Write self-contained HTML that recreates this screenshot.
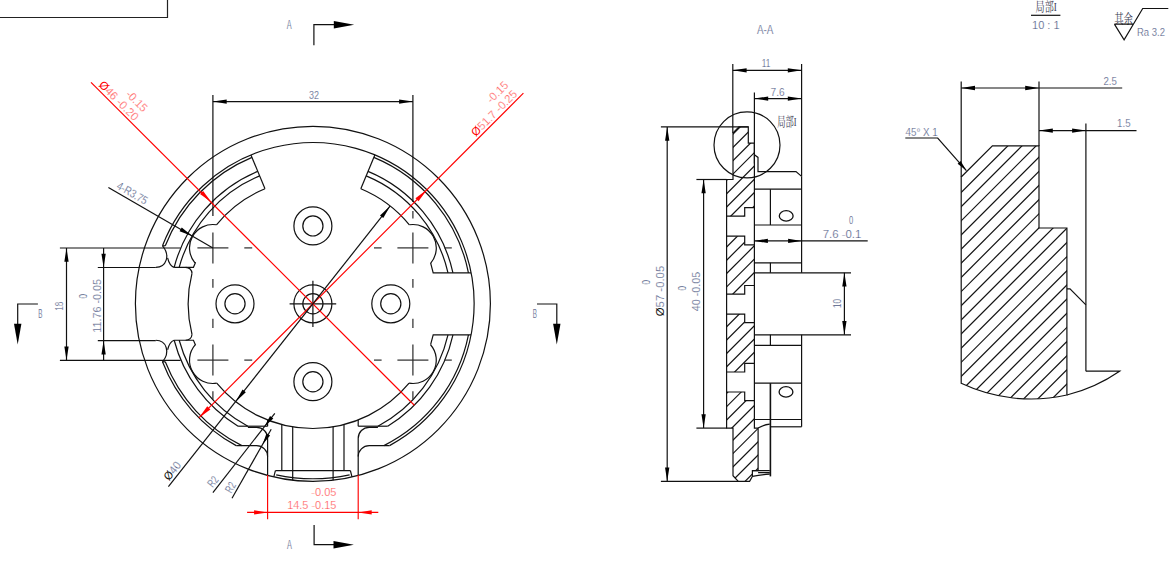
<!DOCTYPE html>
<html lang="zh"><head><meta charset="utf-8"><title>drawing</title>
<style>html,body{margin:0;padding:0;background:#fff;overflow:hidden}svg{display:block;shape-rendering:geometricPrecision}text{white-space:pre}</style></head>
<body>
<svg width="1175" height="566" viewBox="0 0 1175 566">
<circle cx="312.9" cy="303.8" r="177.5" fill="none" stroke="#111" stroke-width="1.2"/>
<path d="M389.57 445.6 A161.2 161.2 0 1 0 162.5 245.8" fill="none" stroke="#111" stroke-width="1.2"/>
<path d="M162.5 361.8 A161.2 161.2 0 0 0 236.23 445.6" fill="none" stroke="#111" stroke-width="1.2"/>
<path d="M468.44 272.8 A158.6 158.6 0 0 0 373.85 157.38" fill="none" stroke="#111" stroke-width="1.2"/>
<path d="M251.95 157.38 A158.6 158.6 0 0 0 165.29 245.8" fill="none" stroke="#111" stroke-width="1.2"/>
<path d="M165.29 361.8 A158.6 158.6 0 0 0 241.86 445.6" fill="none" stroke="#111" stroke-width="1.2"/>
<path d="M383.94 445.6 A158.6 158.6 0 0 0 468.44 334.8" fill="none" stroke="#111" stroke-width="1.2"/>
<path d="M452.96 272.8 A143.45 143.45 0 0 0 368.03 171.37" fill="none" stroke="#111" stroke-width="1.2"/>
<path d="M257.77 171.37 A143.45 143.45 0 0 0 174.16 267.35" fill="none" stroke="#111" stroke-width="1.2"/>
<path d="M174.16 340.25 A143.45 143.45 0 0 0 238.09 426.2" fill="none" stroke="#111" stroke-width="1.2"/>
<path d="M387.71 426.2 A143.45 143.45 0 0 0 452.96 334.8" fill="none" stroke="#111" stroke-width="1.2"/>
<path d="M447.99 272.8 A138.6 138.6 0 0 0 366.16 175.84" fill="none" stroke="#111" stroke-width="1.2"/>
<path d="M259.64 175.84 A138.6 138.6 0 0 0 179.18 267.35" fill="none" stroke="#111" stroke-width="1.2"/>
<path d="M179.18 340.25 A138.6 138.6 0 0 0 247.88 426.2" fill="none" stroke="#111" stroke-width="1.2"/>
<path d="M377.92 426.2 A138.6 138.6 0 0 0 447.99 334.8" fill="none" stroke="#111" stroke-width="1.2"/>
<line x1="360.82" y1="188.68" x2="374.85" y2="154.98" stroke="#111" stroke-width="1.2"/>
<line x1="264.98" y1="188.68" x2="250.95" y2="154.98" stroke="#111" stroke-width="1.2"/>
<path d="M264.98 188.68 A124.7 124.7 0 0 0 216.44 224.77" fill="none" stroke="#111" stroke-width="1.2"/>
<path d="M216.44 224.77 A23.4 23.4 0 0 0 194.92 262.87" fill="none" stroke="#111" stroke-width="1.2"/>
<path d="M195.6 262.3 L193.45 267.35 L174.16 267.35" fill="none" stroke="#111" stroke-width="1.2"/>
<path d="M185.65 267.35 Q191.45 267.65 192.05 273.35" fill="none" stroke="#111" stroke-width="1.2"/>
<path d="M195.12 344.89 A23.4 23.4 0 0 0 216.73 383.18" fill="none" stroke="#111" stroke-width="1.2"/>
<path d="M195.6 345.3 L193.45 340.25 L174.16 340.25" fill="none" stroke="#111" stroke-width="1.2"/>
<path d="M185.65 340.25 Q191.45 339.95 192.05 334.25" fill="none" stroke="#111" stroke-width="1.2"/>
<path d="M191.97 273.35 A124.7 124.7 0 0 0 191.97 334.25" fill="none" stroke="#111" stroke-width="1.2"/>
<path d="M409.36 224.77 A124.7 124.7 0 0 0 360.82 188.68" fill="none" stroke="#111" stroke-width="1.2"/>
<path d="M409.36 224.77 A23.4 23.4 0 0 1 430.75 263.03" fill="none" stroke="#111" stroke-width="1.2"/>
<path d="M430.6 262.9 L433.2 272.8 L471.09 272.8" fill="none" stroke="#111" stroke-width="1.2"/>
<path d="M430.55 344.74 A23.4 23.4 0 0 1 409.07 383.18" fill="none" stroke="#111" stroke-width="1.2"/>
<path d="M430.6 344.7 L433.2 334.8 L471.09 334.8" fill="none" stroke="#111" stroke-width="1.2"/>
<path d="M216.73 383.18 A124.7 124.7 0 0 0 409.07 383.18" fill="none" stroke="#111" stroke-width="1.2"/>
<line x1="267.6" y1="419.98" x2="267.6" y2="426.2" stroke="#111" stroke-width="1.2"/>
<line x1="267.6" y1="426.2" x2="238.09" y2="426.2" stroke="#111" stroke-width="1.2"/>
<path d="M247.88 427.3 L256.6 427.3 A11 11 0 0 1 267.6 438.3 L267.6 475.42" fill="none" stroke="#111" stroke-width="1.2"/>
<path d="M236.23 445.6 L256.6 445.6 A11 11 0 0 1 267.6 456.6" fill="none" stroke="#111" stroke-width="1.2"/>
<line x1="358.2" y1="419.98" x2="358.2" y2="426.2" stroke="#111" stroke-width="1.2"/>
<line x1="358.2" y1="426.2" x2="387.71" y2="426.2" stroke="#111" stroke-width="1.2"/>
<path d="M377.92 427.3 L369.2 427.3 A11 11 0 0 0 358.2 438.3 L358.2 475.42" fill="none" stroke="#111" stroke-width="1.2"/>
<path d="M389.57 445.6 L369.2 445.6 A11 11 0 0 0 358.2 456.6" fill="none" stroke="#111" stroke-width="1.2"/>
<line x1="281.8" y1="424.56" x2="281.8" y2="470.7" stroke="#111" stroke-width="1.2"/>
<line x1="292.7" y1="426.85" x2="292.7" y2="480.15" stroke="#111" stroke-width="1.2"/>
<line x1="333.1" y1="426.85" x2="333.1" y2="480.15" stroke="#111" stroke-width="1.2"/>
<line x1="344" y1="424.56" x2="344" y2="470.7" stroke="#111" stroke-width="1.2"/>
<line x1="275.4" y1="470.7" x2="350.4" y2="470.7" stroke="#111" stroke-width="1.2"/>
<path d="M276.2 474.81 A174.9 174.9 0 0 0 349.6 474.81" fill="none" stroke="#111" stroke-width="1.2"/>
<line x1="275.4" y1="470.7" x2="273.8" y2="476.94" stroke="#111" stroke-width="1.2"/>
<line x1="350.4" y1="470.7" x2="352" y2="476.94" stroke="#111" stroke-width="1.2"/>
<line x1="162.5" y1="245.8" x2="165.29" y2="245.8" stroke="#111" stroke-width="1.2"/>
<path d="M155.8 267.35 C166.5 267.35 170.5 255.35 162.5 245.8" fill="none" stroke="#111" stroke-width="1.2"/>
<path d="M167.6 257.85 Q169.5 265.85 174.16 267.35" fill="none" stroke="#111" stroke-width="1.2"/>
<line x1="162.5" y1="361.8" x2="165.29" y2="361.8" stroke="#111" stroke-width="1.2"/>
<path d="M155.8 340.25 C166.5 340.25 170.5 352.25 162.5 361.8" fill="none" stroke="#111" stroke-width="1.2"/>
<path d="M167.6 349.75 Q169.5 341.75 174.16 340.25" fill="none" stroke="#111" stroke-width="1.2"/>
<circle cx="312.9" cy="303.8" r="19" fill="none" stroke="#111" stroke-width="1.2"/>
<circle cx="312.9" cy="303.8" r="10.1" fill="none" stroke="#111" stroke-width="1.2"/>
<circle cx="235" cy="303.8" r="19" fill="none" stroke="#111" stroke-width="1.2"/>
<circle cx="235" cy="303.8" r="10.1" fill="none" stroke="#111" stroke-width="1.2"/>
<circle cx="390.8" cy="303.8" r="19" fill="none" stroke="#111" stroke-width="1.2"/>
<circle cx="390.8" cy="303.8" r="10.1" fill="none" stroke="#111" stroke-width="1.2"/>
<circle cx="312.9" cy="225.9" r="19" fill="none" stroke="#111" stroke-width="1.2"/>
<circle cx="312.9" cy="225.9" r="10.1" fill="none" stroke="#111" stroke-width="1.2"/>
<circle cx="312.9" cy="381.7" r="19" fill="none" stroke="#111" stroke-width="1.2"/>
<circle cx="312.9" cy="381.7" r="10.1" fill="none" stroke="#111" stroke-width="1.2"/>
<line x1="289.6" y1="303.8" x2="336.2" y2="303.8" stroke="#111" stroke-width="1.2"/>
<line x1="312.9" y1="280.7" x2="312.9" y2="326.9" stroke="#111" stroke-width="1.2"/>
<line x1="197.4" y1="247.9" x2="228.4" y2="247.9" stroke="#2a2a2a" stroke-width="1.2"/>
<line x1="244.3" y1="247.9" x2="252.2" y2="247.9" stroke="#2a2a2a" stroke-width="1.2"/>
<line x1="374" y1="247.9" x2="381.6" y2="247.9" stroke="#2a2a2a" stroke-width="1.2"/>
<line x1="397.4" y1="247.9" x2="428.4" y2="247.9" stroke="#2a2a2a" stroke-width="1.2"/>
<line x1="444.4" y1="247.9" x2="451.8" y2="247.9" stroke="#2a2a2a" stroke-width="1.2"/>
<line x1="197.4" y1="360.1" x2="228.4" y2="360.1" stroke="#2a2a2a" stroke-width="1.2"/>
<line x1="244.3" y1="360.1" x2="252.2" y2="360.1" stroke="#2a2a2a" stroke-width="1.2"/>
<line x1="374" y1="360.1" x2="381.6" y2="360.1" stroke="#2a2a2a" stroke-width="1.2"/>
<line x1="397.4" y1="360.1" x2="428.4" y2="360.1" stroke="#2a2a2a" stroke-width="1.2"/>
<line x1="444.4" y1="360.1" x2="451.8" y2="360.1" stroke="#2a2a2a" stroke-width="1.2"/>
<line x1="212.9" y1="232.4" x2="212.9" y2="263.5" stroke="#2a2a2a" stroke-width="1.2"/>
<line x1="212.9" y1="279" x2="212.9" y2="287.8" stroke="#2a2a2a" stroke-width="1.2"/>
<line x1="212.9" y1="318.8" x2="212.9" y2="328" stroke="#2a2a2a" stroke-width="1.2"/>
<line x1="212.9" y1="344.4" x2="212.9" y2="375.4" stroke="#2a2a2a" stroke-width="1.2"/>
<line x1="212.9" y1="391.2" x2="212.9" y2="399.4" stroke="#2a2a2a" stroke-width="1.2"/>
<line x1="412.9" y1="232.4" x2="412.9" y2="263.5" stroke="#2a2a2a" stroke-width="1.2"/>
<line x1="412.9" y1="279" x2="412.9" y2="287.8" stroke="#2a2a2a" stroke-width="1.2"/>
<line x1="412.9" y1="318.8" x2="412.9" y2="328" stroke="#2a2a2a" stroke-width="1.2"/>
<line x1="412.9" y1="344.4" x2="412.9" y2="375.4" stroke="#2a2a2a" stroke-width="1.2"/>
<line x1="412.9" y1="391.2" x2="412.9" y2="399.4" stroke="#2a2a2a" stroke-width="1.2"/>
<line x1="412.9" y1="211" x2="412.9" y2="218.6" stroke="#2a2a2a" stroke-width="1.2"/>
<line x1="212.9" y1="95" x2="212.9" y2="216" stroke="#111" stroke-width="1.2"/>
<line x1="412.9" y1="95" x2="412.9" y2="202" stroke="#111" stroke-width="1.2"/>
<line x1="212.9" y1="101.6" x2="412.9" y2="101.6" stroke="#111" stroke-width="1.2"/>
<polygon points="212.9,101.6 226.7,99.45 226.7,103.75" fill="#000"/>
<polygon points="412.9,101.6 399.1,103.75 399.1,99.45" fill="#000"/>
<text font-family="'Liberation Sans', sans-serif" font-size="11.45" fill="#4e5a84" text-anchor="middle" textLength="10" lengthAdjust="spacingAndGlyphs" stroke="#fff" stroke-width="0.22" x="314" y="98.6">32</text>
<path d="M313.9 45.2 V24.7 H334" fill="none" stroke="#111" stroke-width="1.2"/>
<polygon points="354.2,24.7 333.8,28.4 333.8,21" fill="#000"/>
<text font-family="'Liberation Sans', sans-serif" font-size="12.43" fill="#4e5a84" textLength="4.9" lengthAdjust="spacingAndGlyphs" stroke="#fff" stroke-width="0.22" x="286.7" y="29.3">A</text>
<path d="M314.1 525.1 V544.7 H334.4" fill="none" stroke="#111" stroke-width="1.2"/>
<polygon points="353.9,544.7 333.5,548.4 333.5,541" fill="#000"/>
<text font-family="'Liberation Sans', sans-serif" font-size="12.43" fill="#4e5a84" textLength="4.9" lengthAdjust="spacingAndGlyphs" stroke="#fff" stroke-width="0.22" x="287" y="549.4">A</text>
<path d="M37.9 304 H17.7 V324" fill="none" stroke="#111" stroke-width="1.2"/>
<polygon points="17.7,344.4 14,323.8 21.4,323.8" fill="#000"/>
<text font-family="'Liberation Sans', sans-serif" font-size="12.43" fill="#4e5a84" textLength="4.2" lengthAdjust="spacingAndGlyphs" stroke="#fff" stroke-width="0.22" x="38.2" y="317.9">B</text>
<path d="M537 304 H556.8 V324" fill="none" stroke="#111" stroke-width="1.2"/>
<polygon points="556.8,344.4 553.1,323.8 560.5,323.8" fill="#000"/>
<text font-family="'Liberation Sans', sans-serif" font-size="12.43" fill="#4e5a84" textLength="4.2" lengthAdjust="spacingAndGlyphs" stroke="#fff" stroke-width="0.22" x="532.8" y="317.9">B</text>
<line x1="59.9" y1="248" x2="180.6" y2="248" stroke="#111" stroke-width="1.2"/>
<line x1="59.9" y1="360.3" x2="180.6" y2="360.3" stroke="#111" stroke-width="1.2"/>
<line x1="97.8" y1="267.5" x2="155.8" y2="267.5" stroke="#111" stroke-width="1.2"/>
<line x1="97.8" y1="340.7" x2="155.8" y2="340.7" stroke="#111" stroke-width="1.2"/>
<line x1="66.5" y1="248" x2="66.5" y2="360.3" stroke="#111" stroke-width="1.2"/>
<polygon points="66.5,248 68.65,261.8 64.35,261.8" fill="#000"/>
<polygon points="66.5,360.3 64.35,346.5 68.65,346.5" fill="#000"/>
<line x1="103.6" y1="248" x2="103.6" y2="360.3" stroke="#111" stroke-width="1.2"/>
<polygon points="103.6,267.5 101.45,253.7 105.75,253.7" fill="#000"/>
<polygon points="103.6,340.7 105.75,354.5 101.45,354.5" fill="#000"/>
<text font-family="'Liberation Sans', sans-serif" font-size="11.45" fill="#4e5a84" textLength="9.2" lengthAdjust="spacingAndGlyphs" stroke="#fff" stroke-width="0.22" transform="translate(62.8 310.8) rotate(-90)">18</text>
<text font-family="'Liberation Sans', sans-serif" font-size="11.45" fill="#4e5a84" textLength="53.8" lengthAdjust="spacingAndGlyphs" stroke="#fff" stroke-width="0.22" transform="translate(100.6 332.8) rotate(-90)">11.76 -0.05</text>
<text font-family="'Liberation Sans', sans-serif" font-size="10.61" fill="#4e5a84" textLength="4.6" lengthAdjust="spacingAndGlyphs" stroke="#fff" stroke-width="0.22" transform="translate(86.6 298.5) rotate(-90)">0</text>
<line x1="108.4" y1="187.6" x2="212.9" y2="247.9" stroke="#111" stroke-width="1.2"/>
<polygon points="192.63,236.2 179.63,231.13 181.73,227.49" fill="#000"/>
<text font-family="'Liberation Sans', sans-serif" font-size="11.45" fill="#4e5a84" textLength="33.5" lengthAdjust="spacingAndGlyphs" stroke="#fff" stroke-width="0.22" transform="translate(115.8 188.18) rotate(29.99)">4-R3.75</text>
<line x1="91" y1="82.3" x2="414.33" y2="405.23" stroke="#ff0000" stroke-width="1.15"/>
<polygon points="211.47,202.37 200.01,194.02 203.12,190.91" fill="#ff0000"/>
<line x1="523.4" y1="93.2" x2="198.91" y2="417.79" stroke="#ff0000" stroke-width="1.15"/>
<polygon points="198.91,417.79 207.26,406.33 210.37,409.44" fill="#ff0000"/>
<polygon points="426.89,189.81 418.54,201.27 415.43,198.16" fill="#ff0000"/>
<text font-family="'Liberation Sans', sans-serif" font-size="11.45" fill="#ff5555" textLength="50.6" lengthAdjust="spacingAndGlyphs" stroke="#fff" stroke-width="0.22" transform="translate(98.14 85.62) rotate(45)"><tspan fill="#ff0000" stroke="none">Ø</tspan>46 -0.20</text>
<text font-family="'Liberation Sans', sans-serif" font-size="11.45" fill="#ff5555" textLength="25" lengthAdjust="spacingAndGlyphs" stroke="#fff" stroke-width="0.22" transform="translate(125.08 94.89) rotate(45)">-0.15</text>
<text font-family="'Liberation Sans', sans-serif" font-size="11.45" fill="#ff5555" textLength="59.6" lengthAdjust="spacingAndGlyphs" stroke="#fff" stroke-width="0.22" transform="translate(475.81 136.97) rotate(-45)"><tspan fill="#ff0000" stroke="none">Ø</tspan>51.7 -0.25</text>
<text font-family="'Liberation Sans', sans-serif" font-size="11.45" fill="#ff5555" textLength="25.3" lengthAdjust="spacingAndGlyphs" stroke="#fff" stroke-width="0.22" transform="translate(491.23 103.88) rotate(-45)">-0.15</text>
<line x1="267.6" y1="475" x2="267.6" y2="519.2" stroke="#ff0000" stroke-width="1.15"/>
<line x1="358.2" y1="475" x2="358.2" y2="519.2" stroke="#ff0000" stroke-width="1.15"/>
<line x1="247.1" y1="512.4" x2="378.3" y2="512.4" stroke="#ff0000" stroke-width="1.15"/>
<polygon points="267.6,512.4 254.1,514.55 254.1,510.25" fill="#ff0000"/>
<polygon points="358.2,512.4 371.7,510.25 371.7,514.55" fill="#ff0000"/>
<text font-family="'Liberation Sans', sans-serif" font-size="11.45" fill="#ff5555" textLength="49.2" lengthAdjust="spacingAndGlyphs" stroke="#fff" stroke-width="0.22" x="287.2" y="509.4">14.5 -0.15</text>
<text font-family="'Liberation Sans', sans-serif" font-size="11.45" fill="#ff5555" textLength="25.1" lengthAdjust="spacingAndGlyphs" stroke="#fff" stroke-width="0.22" x="311.3" y="495.6">-0.05</text>
<line x1="390.19" y1="205.94" x2="168.4" y2="486.6" stroke="#111" stroke-width="1.2"/>
<polygon points="390.19,205.94 383.28,218.07 379.99,215.47" fill="#000"/>
<polygon points="235.61,401.66 242.52,389.53 245.81,392.13" fill="#000"/>
<text font-family="'Liberation Sans', sans-serif" font-size="11.45" fill="#4e5a84" textLength="20.4" lengthAdjust="spacingAndGlyphs" stroke="#fff" stroke-width="0.22" transform="translate(168.99 481.33) rotate(-51.7)"><tspan fill="#111" stroke="none">Ø</tspan>40</text>
<line x1="212.9" y1="492.6" x2="274.8" y2="413.3" stroke="#111" stroke-width="1.2"/>
<polygon points="264.58,426.39 270,416.03 273.32,418.61" fill="#000"/>
<text font-family="'Liberation Sans', sans-serif" font-size="11.45" fill="#4e5a84" textLength="10.2" lengthAdjust="spacingAndGlyphs" stroke="#fff" stroke-width="0.22" transform="translate(212.85 488.12) rotate(-52.03)">R2</text>
<line x1="232" y1="498.3" x2="271.2" y2="429.3" stroke="#111" stroke-width="1.2"/>
<polygon points="262.57,444.48 266.43,433.45 270.08,435.52" fill="#000"/>
<text font-family="'Liberation Sans', sans-serif" font-size="11.45" fill="#4e5a84" textLength="10.2" lengthAdjust="spacingAndGlyphs" stroke="#fff" stroke-width="0.22" transform="translate(231.29 493.87) rotate(-60.4)">R2</text>
<text font-family="'Liberation Sans', sans-serif" font-size="12.01" fill="#4e5a84" text-anchor="middle" textLength="16.5" lengthAdjust="spacingAndGlyphs" stroke="#fff" stroke-width="0.22" x="765.2" y="34.4">A-A</text>
<clipPath id="cs"><path clip-rule="evenodd" d="M733 132.9 L739 126.9 L748.3 126.9 L748.3 143.1 L754.4 143.1 L754.4 428.1 L758.1 428.1 L758.1 470.7 L752.4 470.7 L752.4 476.4 L749.6 481.3 L738.3 481.3 L733 475.7 L733 428.1 L726.6 428.1 L726.6 179.5 L733 179.5 Z M726.6 216.2 H744.7 V207.6 H754.4 V244.8 H744.7 V236.2 H726.6 ZM726.6 294.1 H744.7 V285.5 H754.4 V322.7 H744.7 V314.1 H726.6 ZM726.6 372 H744.7 V363.4 H754.4 V400.6 H744.7 V392 H726.6 Z"/></clipPath>
<g clip-path="url(#cs)" stroke="#111" stroke-width="1.2"><line x1="700" y1="-59.2" x2="780" y2="-139.2"/><line x1="700" y1="-45.89" x2="780" y2="-125.89"/><line x1="700" y1="-32.58" x2="780" y2="-112.58"/><line x1="700" y1="-19.27" x2="780" y2="-99.27"/><line x1="700" y1="-5.96" x2="780" y2="-85.96"/><line x1="700" y1="7.35" x2="780" y2="-72.65"/><line x1="700" y1="20.66" x2="780" y2="-59.34"/><line x1="700" y1="33.97" x2="780" y2="-46.03"/><line x1="700" y1="47.28" x2="780" y2="-32.72"/><line x1="700" y1="60.59" x2="780" y2="-19.41"/><line x1="700" y1="73.9" x2="780" y2="-6.1"/><line x1="700" y1="87.21" x2="780" y2="7.21"/><line x1="700" y1="100.52" x2="780" y2="20.52"/><line x1="700" y1="113.83" x2="780" y2="33.83"/><line x1="700" y1="127.14" x2="780" y2="47.14"/><line x1="700" y1="140.45" x2="780" y2="60.45"/><line x1="700" y1="153.76" x2="780" y2="73.76"/><line x1="700" y1="167.07" x2="780" y2="87.07"/><line x1="700" y1="180.38" x2="780" y2="100.38"/><line x1="700" y1="193.69" x2="780" y2="113.69"/><line x1="700" y1="207" x2="780" y2="127"/><line x1="700" y1="220.31" x2="780" y2="140.31"/><line x1="700" y1="233.62" x2="780" y2="153.62"/><line x1="700" y1="246.93" x2="780" y2="166.93"/><line x1="700" y1="260.24" x2="780" y2="180.24"/><line x1="700" y1="273.55" x2="780" y2="193.55"/><line x1="700" y1="286.86" x2="780" y2="206.86"/><line x1="700" y1="300.17" x2="780" y2="220.17"/><line x1="700" y1="313.48" x2="780" y2="233.48"/><line x1="700" y1="326.79" x2="780" y2="246.79"/><line x1="700" y1="340.1" x2="780" y2="260.1"/><line x1="700" y1="353.41" x2="780" y2="273.41"/><line x1="700" y1="366.72" x2="780" y2="286.72"/><line x1="700" y1="380.03" x2="780" y2="300.03"/><line x1="700" y1="393.34" x2="780" y2="313.34"/><line x1="700" y1="406.65" x2="780" y2="326.65"/><line x1="700" y1="419.96" x2="780" y2="339.96"/><line x1="700" y1="433.27" x2="780" y2="353.27"/><line x1="700" y1="446.58" x2="780" y2="366.58"/><line x1="700" y1="459.89" x2="780" y2="379.89"/><line x1="700" y1="473.2" x2="780" y2="393.2"/><line x1="700" y1="486.51" x2="780" y2="406.51"/><line x1="700" y1="499.82" x2="780" y2="419.82"/><line x1="700" y1="513.13" x2="780" y2="433.13"/><line x1="700" y1="526.44" x2="780" y2="446.44"/><line x1="700" y1="539.75" x2="780" y2="459.75"/><line x1="700" y1="553.06" x2="780" y2="473.06"/><line x1="700" y1="566.37" x2="780" y2="486.37"/><line x1="700" y1="579.68" x2="780" y2="499.68"/><line x1="700" y1="592.99" x2="780" y2="512.99"/><line x1="700" y1="606.3" x2="780" y2="526.3"/><line x1="700" y1="619.61" x2="780" y2="539.61"/><line x1="700" y1="632.92" x2="780" y2="552.92"/><line x1="700" y1="646.23" x2="780" y2="566.23"/><line x1="700" y1="659.54" x2="780" y2="579.54"/><line x1="700" y1="672.85" x2="780" y2="592.85"/><line x1="700" y1="686.16" x2="780" y2="606.16"/><line x1="700" y1="699.47" x2="780" y2="619.47"/></g>
<path d="M733 132.9 L739 126.9 L748.3 126.9 L748.3 143.1 L754.4 143.1 L754.4 428.1 L758.1 428.1 L758.1 470.7 L752.4 470.7 L752.4 476.4 L749.6 481.3 L738.3 481.3 L733 475.7 L733 428.1 L726.6 428.1 L726.6 179.5 L733 179.5 Z" fill="none" stroke="#111" stroke-width="1.2"/>
<path d="M726.6 216.2 H744.7 V207.6 H754.4 M726.6 236.2 H744.7 V244.8 H754.4" fill="none" stroke="#111" stroke-width="1.2"/>
<path d="M726.6 294.1 H744.7 V285.5 H754.4 M726.6 314.1 H744.7 V322.7 H754.4" fill="none" stroke="#111" stroke-width="1.2"/>
<path d="M726.6 372 H744.7 V363.4 H754.4 M726.6 392 H744.7 V400.6 H754.4" fill="none" stroke="#111" stroke-width="1.2"/>
<line x1="754.4" y1="143.1" x2="754.4" y2="163.6" stroke="#111" stroke-width="1.2"/>
<path d="M754.4 154.8 L758.0 157.4 V171.6 H796 L801.6 176.4" fill="none" stroke="#111" stroke-width="1.2"/>
<line x1="754.4" y1="189.2" x2="801.6" y2="189.2" stroke="#111" stroke-width="1.2"/>
<line x1="770.4" y1="189.2" x2="770.4" y2="225" stroke="#111" stroke-width="1.2"/>
<line x1="754.4" y1="225" x2="801.6" y2="225" stroke="#111" stroke-width="1.2"/>
<ellipse cx="786.2" cy="215.9" rx="6.9" ry="5.2" fill="none" stroke="#111" stroke-width="1.3"/>
<line x1="754.4" y1="262.8" x2="801.6" y2="262.8" stroke="#111" stroke-width="1.2"/>
<line x1="770.4" y1="262.8" x2="770.4" y2="272.8" stroke="#111" stroke-width="1.2"/>
<line x1="801.6" y1="176.4" x2="801.6" y2="272.8" stroke="#111" stroke-width="1.2"/>
<line x1="754.4" y1="272.8" x2="851" y2="272.8" stroke="#111" stroke-width="1.2"/>
<line x1="754.4" y1="334.8" x2="851" y2="334.8" stroke="#111" stroke-width="1.2"/>
<line x1="770.4" y1="334.8" x2="770.4" y2="345.4" stroke="#111" stroke-width="1.2"/>
<line x1="754.4" y1="345.4" x2="801.6" y2="345.4" stroke="#111" stroke-width="1.2"/>
<line x1="801.6" y1="334.8" x2="801.6" y2="426.8" stroke="#111" stroke-width="1.2"/>
<line x1="754.4" y1="383.2" x2="801.6" y2="383.2" stroke="#111" stroke-width="1.2"/>
<line x1="770.4" y1="383.2" x2="770.4" y2="476.4" stroke="#111" stroke-width="1.6"/>
<line x1="754.4" y1="419.5" x2="801.6" y2="419.5" stroke="#111" stroke-width="1.2"/>
<line x1="770.4" y1="426.8" x2="801.6" y2="426.8" stroke="#111" stroke-width="1.2"/>
<ellipse cx="786" cy="391.9" rx="6.9" ry="5.2" fill="none" stroke="#111" stroke-width="1.3"/>
<path d="M758.1 428.1 Q764 424.6 769.8 424.2" fill="none" stroke="#111" stroke-width="1.2"/>
<path d="M752.4 470.7 H769.8 M758.1 472.6 H769.8 M752.4 476.4 Q762 474.4 769.8 474.2" fill="none" stroke="#111" stroke-width="1.2"/>
<circle cx="747" cy="144.9" r="33" fill="none" stroke="#111" stroke-width="1.2"/>
<text font-family="'Liberation Serif', 'Noto Serif CJK SC', serif" font-size="12.57" fill="#38384f" textLength="19.4" lengthAdjust="spacingAndGlyphs" x="777.2" y="125.6">局部I</text>
<line x1="732.8" y1="63.9" x2="732.8" y2="132.9" stroke="#111" stroke-width="1.2"/>
<line x1="801.6" y1="63.9" x2="801.6" y2="176.4" stroke="#111" stroke-width="1.2"/>
<line x1="732.8" y1="70.3" x2="801.6" y2="70.3" stroke="#111" stroke-width="1.2"/>
<polygon points="732.8,70.3 746.6,68.15 746.6,72.45" fill="#000"/>
<polygon points="801.6,70.3 787.8,72.45 787.8,68.15" fill="#000"/>
<text font-family="'Liberation Sans', sans-serif" font-size="11.45" fill="#4e5a84" text-anchor="middle" textLength="8.6" lengthAdjust="spacingAndGlyphs" stroke="#fff" stroke-width="0.22" x="766" y="66.6">11</text>
<line x1="754.4" y1="92.5" x2="754.4" y2="143.1" stroke="#111" stroke-width="1.2"/>
<line x1="754.4" y1="98.6" x2="801.6" y2="98.6" stroke="#111" stroke-width="1.2"/>
<polygon points="754.4,98.6 768.2,96.45 768.2,100.75" fill="#000"/>
<polygon points="801.6,98.6 787.8,100.75 787.8,96.45" fill="#000"/>
<text font-family="'Liberation Sans', sans-serif" font-size="11.45" fill="#4e5a84" text-anchor="middle" textLength="14" lengthAdjust="spacingAndGlyphs" stroke="#fff" stroke-width="0.22" x="777.6" y="96.2">7.6</text>
<line x1="660.9" y1="126.9" x2="748.3" y2="126.9" stroke="#111" stroke-width="1.2"/>
<line x1="660.9" y1="481.3" x2="738.3" y2="481.3" stroke="#111" stroke-width="1.2"/>
<line x1="667.2" y1="126.9" x2="667.2" y2="481.3" stroke="#111" stroke-width="1.2"/>
<polygon points="667.2,126.9 669.35,140.7 665.05,140.7" fill="#000"/>
<polygon points="667.2,481.3 665.05,467.5 669.35,467.5" fill="#000"/>
<line x1="696.4" y1="179.5" x2="726.6" y2="179.5" stroke="#111" stroke-width="1.2"/>
<line x1="696.4" y1="428.1" x2="726.6" y2="428.1" stroke="#111" stroke-width="1.2"/>
<line x1="703.6" y1="179.5" x2="703.6" y2="428.1" stroke="#111" stroke-width="1.2"/>
<polygon points="703.6,179.5 705.75,193.3 701.45,193.3" fill="#000"/>
<polygon points="703.6,428.1 701.45,414.3 705.75,414.3" fill="#000"/>
<text font-family="'Liberation Sans', sans-serif" font-size="11.45" fill="#4e5a84" textLength="50.4" lengthAdjust="spacingAndGlyphs" stroke="#fff" stroke-width="0.22" transform="translate(664.4 316.2) rotate(-90)"><tspan fill="#111" stroke="none">Ø</tspan>57 -0.05</text>
<text font-family="'Liberation Sans', sans-serif" font-size="10.61" fill="#4e5a84" textLength="4.6" lengthAdjust="spacingAndGlyphs" stroke="#fff" stroke-width="0.22" transform="translate(650.2 284.4) rotate(-90)">0</text>
<text font-family="'Liberation Sans', sans-serif" font-size="11.45" fill="#4e5a84" textLength="39.4" lengthAdjust="spacingAndGlyphs" stroke="#fff" stroke-width="0.22" transform="translate(699.8 311.2) rotate(-90)">40 -0.05</text>
<text font-family="'Liberation Sans', sans-serif" font-size="10.61" fill="#4e5a84" textLength="4.6" lengthAdjust="spacingAndGlyphs" stroke="#fff" stroke-width="0.22" transform="translate(685.6 290.6) rotate(-90)">0</text>
<line x1="754.4" y1="240.9" x2="867.7" y2="240.9" stroke="#111" stroke-width="1.2"/>
<polygon points="754.4,240.9 767.9,238.75 767.9,243.05" fill="#000"/>
<polygon points="801.6,240.9 788.1,243.05 788.1,238.75" fill="#000"/>
<text font-family="'Liberation Sans', sans-serif" font-size="11.45" fill="#4e5a84" textLength="38.6" lengthAdjust="spacingAndGlyphs" stroke="#fff" stroke-width="0.22" x="822.7" y="237.5">7.6 -0.1</text>
<text font-family="'Liberation Sans', sans-serif" font-size="11.45" fill="#4e5a84" textLength="4.2" lengthAdjust="spacingAndGlyphs" stroke="#fff" stroke-width="0.22" x="849" y="223.9">0</text>
<line x1="844.4" y1="272.8" x2="844.4" y2="334.8" stroke="#111" stroke-width="1.2"/>
<polygon points="844.4,272.8 846.55,286.6 842.25,286.6" fill="#000"/>
<polygon points="844.4,334.8 842.25,321 846.55,321" fill="#000"/>
<text font-family="'Liberation Sans', sans-serif" font-size="11.45" fill="#4e5a84" textLength="9" lengthAdjust="spacingAndGlyphs" stroke="#fff" stroke-width="0.22" transform="translate(840.6 308) rotate(-90)">10</text>
<text font-family="'Liberation Serif', 'Noto Serif CJK SC', serif" font-size="12.57" fill="#38384f" textLength="21.2" lengthAdjust="spacingAndGlyphs" x="1035.6" y="10.6">局部I</text>
<line x1="1031" y1="15.3" x2="1060.4" y2="15.3" stroke="#111" stroke-width="1.2"/>
<text font-family="'Liberation Sans', sans-serif" font-size="11.59" fill="#4e5a84" textLength="27.6" lengthAdjust="spacingAndGlyphs" stroke="#fff" stroke-width="0.22" x="1032" y="29.2">10 : 1</text>
<text font-family="'Liberation Serif', 'Noto Serif CJK SC', serif" font-size="12.57" fill="#38384f" textLength="18.2" lengthAdjust="spacingAndGlyphs" x="1114.6" y="22.6">其余</text>
<path d="M1114.4 24.1 H1133.3 M1114.4 24.1 L1124.1 39.9 L1142.7 8.5 H1168.3" fill="none" stroke="#111" stroke-width="1.2"/>
<text font-family="'Liberation Sans', sans-serif" font-size="11.73" fill="#4e5a84" textLength="28" lengthAdjust="spacingAndGlyphs" stroke="#fff" stroke-width="0.22" x="1137" y="36.3">Ra 3.2</text>
<clipPath id="cd"><path d="M961.2 177 L992.4 145.9 L1039 145.9 L1039 228 L1066.9 228 L1066.9 395 A163 163 0 0 1 961.2 383.3 Z"/></clipPath>
<g clip-path="url(#cd)" stroke="#111" stroke-width="1.2"><line x1="940" y1="72.2" x2="1100" y2="-87.8"/><line x1="940" y1="86.35" x2="1100" y2="-73.65"/><line x1="940" y1="100.5" x2="1100" y2="-59.5"/><line x1="940" y1="114.65" x2="1100" y2="-45.35"/><line x1="940" y1="128.8" x2="1100" y2="-31.2"/><line x1="940" y1="142.95" x2="1100" y2="-17.05"/><line x1="940" y1="157.1" x2="1100" y2="-2.9"/><line x1="940" y1="171.25" x2="1100" y2="11.25"/><line x1="940" y1="185.4" x2="1100" y2="25.4"/><line x1="940" y1="213.7" x2="1100" y2="53.7"/><line x1="940" y1="227.85" x2="1100" y2="67.85"/><line x1="940" y1="242" x2="1100" y2="82"/><line x1="940" y1="256.15" x2="1100" y2="96.15"/><line x1="940" y1="270.3" x2="1100" y2="110.3"/><line x1="940" y1="284.45" x2="1100" y2="124.45"/><line x1="940" y1="298.6" x2="1100" y2="138.6"/><line x1="940" y1="312.75" x2="1100" y2="152.75"/><line x1="940" y1="326.9" x2="1100" y2="166.9"/><line x1="940" y1="341.05" x2="1100" y2="181.05"/><line x1="940" y1="355.2" x2="1100" y2="195.2"/><line x1="940" y1="369.35" x2="1100" y2="209.35"/><line x1="940" y1="383.5" x2="1100" y2="223.5"/><line x1="940" y1="397.65" x2="1100" y2="237.65"/><line x1="940" y1="411.8" x2="1100" y2="251.8"/><line x1="940" y1="425.95" x2="1100" y2="265.95"/><line x1="940" y1="440.1" x2="1100" y2="280.1"/><line x1="940" y1="454.25" x2="1100" y2="294.25"/><line x1="940" y1="468.4" x2="1100" y2="308.4"/><line x1="940" y1="482.55" x2="1100" y2="322.55"/><line x1="940" y1="496.7" x2="1100" y2="336.7"/><line x1="940" y1="510.85" x2="1100" y2="350.85"/><line x1="940" y1="525" x2="1100" y2="365"/><line x1="940" y1="539.15" x2="1100" y2="379.15"/><line x1="940" y1="553.3" x2="1100" y2="393.3"/></g>
<path d="M961.2 177 L992.4 145.9 L1039 145.9 L1039 228 L1066.9 228 L1066.9 395 A163 163 0 0 1 961.2 383.3 Z" fill="none" stroke="#111" stroke-width="1.2"/>
<path d="M1066.9 395 A163 163 0 0 0 1119.6 371.2 H1085.9" fill="none" stroke="#111" stroke-width="1.2"/>
<path d="M1066.9 288.9 H1070 L1085.9 304.8" fill="none" stroke="#111" stroke-width="1.2"/>
<line x1="961.2" y1="81.6" x2="961.2" y2="177" stroke="#111" stroke-width="1.2"/>
<line x1="1039" y1="81.6" x2="1039" y2="145.9" stroke="#111" stroke-width="1.2"/>
<line x1="1085.9" y1="123.6" x2="1085.9" y2="371.2" stroke="#111" stroke-width="1.2"/>
<line x1="961.2" y1="88" x2="1122.2" y2="88" stroke="#111" stroke-width="1.2"/>
<polygon points="961.2,88 975,85.85 975,90.15" fill="#000"/>
<polygon points="1039,88 1025.2,90.15 1025.2,85.85" fill="#000"/>
<text font-family="'Liberation Sans', sans-serif" font-size="11.45" fill="#4e5a84" text-anchor="middle" textLength="13.4" lengthAdjust="spacingAndGlyphs" stroke="#fff" stroke-width="0.22" x="1110.2" y="84.6">2.5</text>
<line x1="1039" y1="130.6" x2="1136.5" y2="130.6" stroke="#111" stroke-width="1.2"/>
<polygon points="1039,130.6 1052.8,128.45 1052.8,132.75" fill="#000"/>
<polygon points="1085.9,130.6 1072.1,132.75 1072.1,128.45" fill="#000"/>
<text font-family="'Liberation Sans', sans-serif" font-size="11.45" fill="#4e5a84" text-anchor="middle" textLength="13.4" lengthAdjust="spacingAndGlyphs" stroke="#fff" stroke-width="0.22" x="1123.8" y="127.2">1.5</text>
<path d="M905.3 138 H937.7 L966.4 170.6" fill="none" stroke="#111" stroke-width="1.2"/>
<polygon points="966.4,170.6 957.63,163.67 960.63,161.02" fill="#000"/>
<text font-family="'Liberation Sans', sans-serif" font-size="11.45" fill="#4e5a84" textLength="32.2" lengthAdjust="spacingAndGlyphs" stroke="#fff" stroke-width="0.22" x="905.6" y="135.6">45° X 1</text>
<path d="M0 17.5 H167.5 V0" fill="none" stroke="#222" stroke-width="1.2"/>
</svg>
</body></html>
